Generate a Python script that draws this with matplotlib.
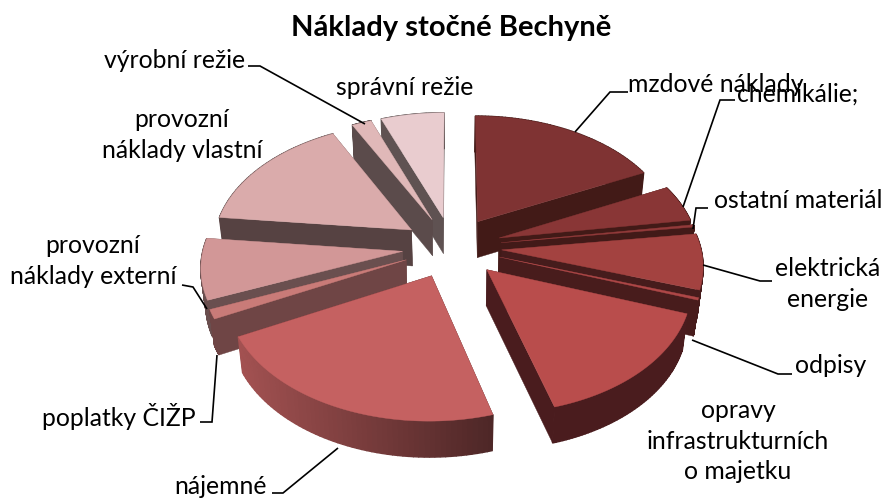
import numpy as np
import matplotlib
matplotlib.use("Agg")
import matplotlib.pyplot as plt
from matplotlib.patches import Polygon
from matplotlib.colors import to_rgb

plt.rcParams['font.family'] = ['Lato', 'DejaVu Sans']

title = "Náklady stočné Bechyně"
categories = ["mzdové náklady", "chemikálie;", "ostatní materiál", "elektrická\nenergie", "odpisy",
              "opravy\ninfrastrukturních\no majetku", "nájemné", "poplatky ČIŽP",
              "provozní\nnáklady externí", "provozní\nnáklady vlastní", "výrobní režie", "správní režie"]
values = [17.8, 4.8, 0.3, 7.2, 0.3, 15.1, 22.1, 1.2, 7.9, 15.7, 1.8, 5.8]

top_colors = ["#7f3333", "#893636", "#923a3a", "#a34240", "#ae4747", "#b94d4c",
              "#c56161", "#c97b78", "#d29797", "#daabab", "#e0b8b8", "#e9cccf"]
side_colors = ["#421a17", "#421a17", "#421a18", "#461c1c", "#481c1c", "#4a1c1e",
               "#4e2727", "#6f4545", "#6a4f4f", "#564242", "#5b4b4b", "#5f5252"]

label_pos = [(716, 84), (798, 94), (798, 200), (828, 284), (831, 365), (738, 441),
             (221, 486), (119, 416), (93, 261), (182, 135), (175, 60), (405, 87)]
leaders = [[(628, 92), (610, 92), (575, 132)],
           [(735, 100), (720, 100), (683, 207)],
           [(708, 208), (696, 208), (693, 229)],
           [(772, 281), (760, 281), (703, 265)],
           [(792, 374), (778, 374), (692, 340)],
           [],
           [(272, 493), (283, 493), (338, 448)],
           [(200, 422), (212, 422), (217, 355)],
           [(182, 285), (193, 287), (207, 309)],
           [],
           [(248, 66), (260, 66), (365, 124)],
           []]

# projection of the tilted pie
CX, CY, A, B, K, E, DEPTH = 452, 247, 199, 122.5, 0.11, 0.25, 36


def project(x, y, low=False):
    p = 1 + K * y
    sx = A * x / p
    sy = B * y / p
    if low:
        sx *= 0.98
        return CX + sx, CY - sy + DEPTH
    return CX + sx, CY - sy


def mix(c, f):
    return tuple(np.clip(np.array(to_rgb(c)) * f, 0, 1))


fig = plt.figure(figsize=(8.85, 4.98), dpi=100)
ax = fig.add_axes([0, 0, 1, 1])
ax.set_xlim(0, 885)
ax.set_ylim(498, 0)
ax.axis("off")

vals = np.array(values)
edges = np.concatenate([[0], np.cumsum(vals) / vals.sum() * 2 * np.pi])
mids = (edges[:-1] + edges[1:]) / 2

for i in np.argsort(-np.cos(mids)):
    t = np.linspace(edges[i], edges[i + 1], 60)
    ox, oy = E * np.sin(mids[i]), E * np.cos(mids[i])
    rx, ry = ox + np.sin(t), oy + np.cos(t)
    xs = np.concatenate([[ox], rx])
    ys = np.concatenate([[oy], ry])
    top = [project(x, y) for x, y in zip(xs, ys)]
    low = [project(x, y, True) for x, y in zip(xs, ys)]
    n = len(top)
    for a_, b_ in [(0, 1), (n - 1, 0)]:
        ax.add_patch(Polygon([top[a_], top[b_], low[b_], low[a_]], closed=True,
                             fc=side_colors[i], ec=side_colors[i], lw=0.3))
    for j in range(1, n - 1):
        if categories[i] == "nájemné":
            f = np.interp(low[j][0], [241, 492], [2.1, 1.0])
            col = mix(side_colors[i], f)
        else:
            col = side_colors[i]
        ax.add_patch(Polygon([top[j], top[j + 1], low[j + 1], low[j]], closed=True,
                             fc=col, ec=col, lw=1.0))
    ax.add_patch(Polygon(top, closed=True, fc=top_colors[i], ec=top_colors[i], lw=0.3))

for path in leaders:
    if path:
        ax.plot(*zip(*path), color="black", lw=1.2, solid_capstyle="butt", solid_joinstyle="miter", zorder=5)

for lab, (x, y) in zip(categories, label_pos):
    ax.text(x, y, lab, ha="center", va="center", fontsize=17.8, color="black",
            linespacing=1.42, zorder=6)
ax.text(451, 28, title, ha="center", va="center", fontsize=21, fontweight="bold", color="black")

fig.savefig("out.png", dpi=100)
